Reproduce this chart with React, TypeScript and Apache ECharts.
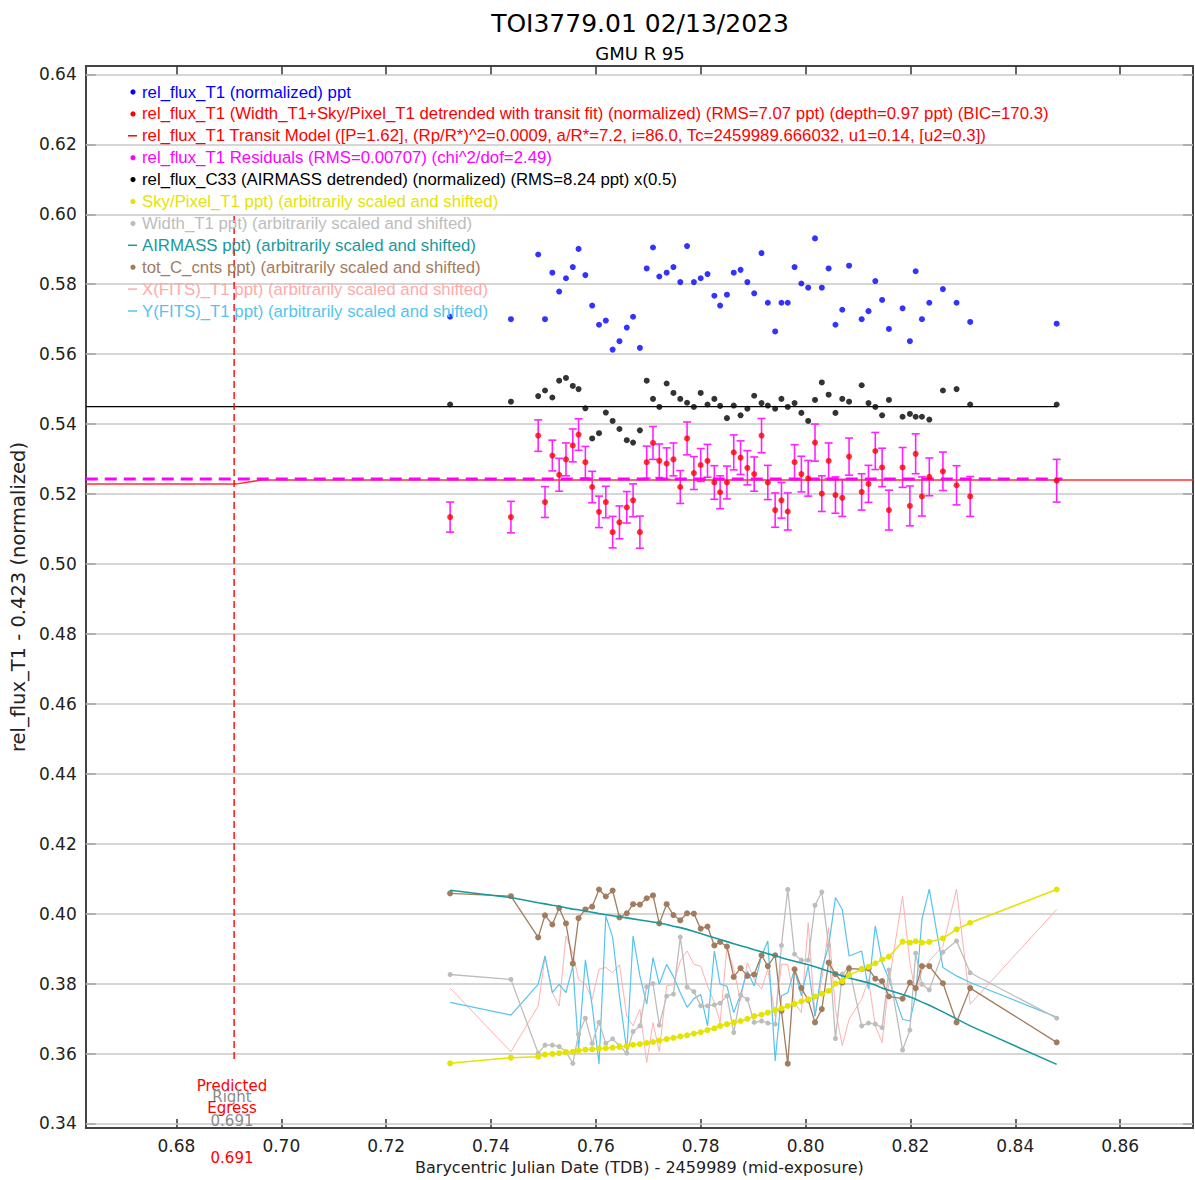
import React, { useEffect, useRef } from "react";
import * as echarts from "echarts";

// ---------------- data ----------------
const times = [0.7322, 0.7438, 0.749, 0.7503, 0.7517, 0.753, 0.7543, 0.7556, 0.7567, 0.758, 0.7593, 0.7606, 0.7619, 0.7632, 0.7645, 0.7659, 0.7671, 0.7684, 0.7697, 0.7709, 0.7721, 0.7735, 0.7748, 0.7761, 0.7774, 0.7787, 0.78, 0.7813, 0.7826, 0.7837, 0.785, 0.7863, 0.7876, 0.7889, 0.7902, 0.7916, 0.7928, 0.7942, 0.7954, 0.7966, 0.7979, 0.7992, 0.8005, 0.8018, 0.8031, 0.8044, 0.8057, 0.807, 0.8083, 0.8107, 0.812, 0.8133, 0.8146, 0.8159, 0.8185, 0.8199, 0.821, 0.8222, 0.8236, 0.8262, 0.8288, 0.8314, 0.8479];

const relFluxT1 = [0.5707, 0.57, 0.5885, 0.57, 0.5833, 0.5779, 0.5817, 0.5849, 0.5901, 0.5826, 0.5739, 0.5684, 0.5696, 0.5613, 0.5637, 0.5676, 0.5707, 0.5618, 0.5845, 0.5905, 0.5822, 0.5833, 0.5849, 0.5806, 0.5909, 0.5806, 0.5817, 0.5829, 0.5767, 0.5739, 0.577, 0.5833, 0.5841, 0.5806, 0.5774, 0.5889, 0.5747, 0.5665, 0.5747, 0.5747, 0.5849, 0.5802, 0.579, 0.5931, 0.579, 0.5845, 0.5684, 0.5727, 0.5853, 0.57, 0.5723, 0.5809, 0.5755, 0.5672, 0.5731, 0.5637, 0.5837, 0.57, 0.5747, 0.5786, 0.5747, 0.5692, 0.5687];

const detrended = [0.5134, 0.5134, 0.5367, 0.5177, 0.531, 0.5255, 0.5299, 0.5339, 0.537, 0.5291, 0.522, 0.5149, 0.5177, 0.5091, 0.5119, 0.5162, 0.5182, 0.5091, 0.5291, 0.5346, 0.5295, 0.5287, 0.5299, 0.522, 0.5359, 0.526, 0.5283, 0.5295, 0.5233, 0.5205, 0.5233, 0.5319, 0.5304, 0.5275, 0.5257, 0.5367, 0.5233, 0.5154, 0.5182, 0.515, 0.5291, 0.5257, 0.5245, 0.5347, 0.5201, 0.5295, 0.5197, 0.5189, 0.5307, 0.5206, 0.5229, 0.5323, 0.5276, 0.5154, 0.5276, 0.5166, 0.5315, 0.5193, 0.5249, 0.5265, 0.5225, 0.5193, 0.5238];

const detrendedErr = [0.0043, 0.0045, 0.0045, 0.0044, 0.0044, 0.0047, 0.0047, 0.0047, 0.0045, 0.0045, 0.0045, 0.0045, 0.0045, 0.0045, 0.0047, 0.0045, 0.0047, 0.0046, 0.0046, 0.0047, 0.0048, 0.0045, 0.0047, 0.0047, 0.0047, 0.0047, 0.0047, 0.0047, 0.0048, 0.0047, 0.0047, 0.005, 0.0048, 0.0049, 0.0049, 0.0049, 0.0049, 0.0049, 0.0051, 0.0053, 0.005, 0.0051, 0.0051, 0.0053, 0.0051, 0.0051, 0.0052, 0.0053, 0.0053, 0.0052, 0.0053, 0.0053, 0.0055, 0.0057, 0.0057, 0.0057, 0.0057, 0.0056, 0.0054, 0.0055, 0.0056, 0.0057, 0.0061];

const compC33 = [0.5456, 0.5464, 0.548, 0.5496, 0.5476, 0.5524, 0.5532, 0.5509, 0.55, 0.5445, 0.5359, 0.5374, 0.5433, 0.5409, 0.5386, 0.5354, 0.5347, 0.5382, 0.5524, 0.5472, 0.5449, 0.5516, 0.5489, 0.5472, 0.5461, 0.5449, 0.5489, 0.5456, 0.5472, 0.5452, 0.5417, 0.5453, 0.5425, 0.5444, 0.5481, 0.546, 0.5453, 0.5444, 0.5472, 0.5449, 0.546, 0.5432, 0.5409, 0.5469, 0.5519, 0.5484, 0.5432, 0.5472, 0.5464, 0.5511, 0.546, 0.5449, 0.5425, 0.5469, 0.5421, 0.5429, 0.5421, 0.5421, 0.5413, 0.5496, 0.55, 0.5456, 0.5456];

const skyPixel = [0.3572, 0.3588, 0.3591, 0.3597, 0.3599, 0.3601, 0.3604, 0.3605, 0.3608, 0.3611, 0.3612, 0.3614, 0.3615, 0.3617, 0.3619, 0.3621, 0.3625, 0.3627, 0.363, 0.3633, 0.3637, 0.3641, 0.3645, 0.3649, 0.3652, 0.3657, 0.3661, 0.3667, 0.3672, 0.3679, 0.3684, 0.3689, 0.3693, 0.3699, 0.3707, 0.3711, 0.3717, 0.3724, 0.3729, 0.3736, 0.3742, 0.3749, 0.3755, 0.3763, 0.3771, 0.3779, 0.38, 0.3807, 0.3824, 0.3841, 0.3848, 0.3858, 0.3869, 0.3877, 0.392, 0.3917, 0.3921, 0.3917, 0.3919, 0.3929, 0.3955, 0.3974, 0.4069];

const widthT1 = [0.3826, 0.3812, 0.3601, 0.3624, 0.3624, 0.362, 0.3605, 0.3572, 0.3655, 0.3701, 0.3629, 0.3689, 0.3629, 0.3642, 0.3622, 0.3601, 0.3663, 0.3679, 0.3791, 0.38, 0.3681, 0.3764, 0.377, 0.3933, 0.379, 0.3777, 0.3736, 0.3736, 0.3739, 0.3744, 0.3765, 0.366, 0.3767, 0.3755, 0.3689, 0.3693, 0.3687, 0.3684, 0.3909, 0.4069, 0.3884, 0.3867, 0.3867, 0.4024, 0.4062, 0.3909, 0.3643, 0.3827, 0.3847, 0.3679, 0.3687, 0.3684, 0.3674, 0.3839, 0.361, 0.3667, 0.3887, 0.3798, 0.3782, 0.389, 0.3922, 0.3831, 0.3701];

const airmass = [0.4067, 0.4046, 0.4031, 0.4028, 0.4024, 0.4021, 0.4017, 0.4013, 0.4011, 0.4007, 0.4004, 0.4, 0.3997, 0.3994, 0.3991, 0.3988, 0.3985, 0.3982, 0.3979, 0.3976, 0.3973, 0.3969, 0.3964, 0.396, 0.3955, 0.3949, 0.3943, 0.3937, 0.3931, 0.3926, 0.392, 0.3914, 0.3908, 0.3903, 0.3897, 0.3891, 0.3885, 0.388, 0.3874, 0.3869, 0.3864, 0.3859, 0.3854, 0.3848, 0.3842, 0.3835, 0.3829, 0.3822, 0.3816, 0.3807, 0.3802, 0.3796, 0.3787, 0.3781, 0.3769, 0.3762, 0.3755, 0.3747, 0.3738, 0.3719, 0.3699, 0.3679, 0.3569];

const totCcnts = [0.4058, 0.405, 0.3932, 0.3995, 0.3969, 0.4016, 0.3972, 0.3857, 0.3987, 0.4012, 0.402, 0.4069, 0.4049, 0.4066, 0.3989, 0.4001, 0.4027, 0.4026, 0.4044, 0.4052, 0.3972, 0.4027, 0.3996, 0.3981, 0.4001, 0.4, 0.3957, 0.3963, 0.3909, 0.3919, 0.3906, 0.3819, 0.3844, 0.3822, 0.3826, 0.3881, 0.385, 0.3881, 0.3722, 0.3571, 0.3841, 0.3787, 0.3753, 0.3689, 0.3727, 0.386, 0.3827, 0.3803, 0.3843, 0.3841, 0.3843, 0.3814, 0.3807, 0.3763, 0.3757, 0.3803, 0.3787, 0.385, 0.385, 0.3801, 0.3689, 0.3787, 0.3632];

const xFits = [0.3787, 0.3605, 0.3736, 0.3877, 0.3774, 0.3736, 0.3936, 0.3887, 0.3812, 0.3798, 0.3755, 0.3841, 0.3846, 0.3831, 0.3854, 0.3707, 0.3679, 0.3727, 0.3574, 0.3688, 0.3605, 0.3793, 0.3798, 0.3865, 0.3893, 0.3855, 0.385, 0.3793, 0.3746, 0.3688, 0.3903, 0.3841, 0.375, 0.386, 0.3812, 0.3784, 0.3841, 0.3707, 0.3855, 0.3855, 0.3746, 0.3717, 0.3974, 0.3707, 0.3812, 0.396, 0.3727, 0.3622, 0.3698, 0.3755, 0.3812, 0.3679, 0.3631, 0.3803, 0.405, 0.386, 0.3769, 0.3836, 0.3865, 0.3907, 0.407, 0.3741, 0.4012];

const yFits = [0.3746, 0.371, 0.3798, 0.3879, 0.3774, 0.3798, 0.3774, 0.385, 0.3612, 0.3868, 0.3736, 0.357, 0.3993, 0.3932, 0.3765, 0.3608, 0.3936, 0.3822, 0.3741, 0.3874, 0.3798, 0.3855, 0.382, 0.3774, 0.3732, 0.3757, 0.3769, 0.3679, 0.3893, 0.3798, 0.3793, 0.3717, 0.3769, 0.3836, 0.3793, 0.3879, 0.3922, 0.3579, 0.3765, 0.3774, 0.3841, 0.3765, 0.385, 0.3707, 0.3841, 0.3908, 0.4046, 0.4012, 0.3879, 0.3893, 0.3784, 0.3965, 0.386, 0.3812, 0.3698, 0.3693, 0.3765, 0.3984, 0.407, 0.3846, 0.3822, 0.3803, 0.3704];

// transit model (in-transit then egress then out-of-transit level)
const modelTimes = [0.6627, 0.6915, 0.6962, 0.8739];
const modelFlux = [0.5229, 0.5229, 0.524, 0.524];
// residual baseline (dashed magenta) and comparison-star baseline (black)
const residualTimes = [0.6627, 0.849];
const residualLevel = 0.5243;
const compTimes = [0.6627, 0.8479];
const compLevel = 0.545;
// predicted egress marker
const egressTime = 0.691;
const egressSpan = [0.5995, 0.3575];

// axes
const xMin = 0.6627;
const xMax = 0.8739;
const yMin = 0.3387;
const yMax = 0.6424;
const xTicks = [0.68, 0.7, 0.72, 0.74, 0.76, 0.78, 0.8, 0.82, 0.84, 0.86];
const yTicks = [0.34, 0.36, 0.38, 0.4, 0.42, 0.44, 0.46, 0.48, 0.5, 0.52, 0.54, 0.56, 0.58, 0.6, 0.62, 0.64];

const titleText = "TOI3779.01 02/13/2023";
const subtitleText = "GMU R 95";
const xName = "Barycentric Julian Date (TDB) - 2459989 (mid-exposure)";
const yName = "rel_flux_T1 - 0.423 (normalized)";

const legendRows = [
  { text: "rel_flux_T1 (normalized) ppt", color: "#0000ff", mark: "dot" },
  { text: "rel_flux_T1 (Width_T1+Sky/Pixel_T1 detrended with transit fit) (normalized) (RMS=7.07 ppt) (depth=0.97 ppt) (BIC=170.3)", color: "#ff0000", mark: "dot" },
  { text: "rel_flux_T1 Transit Model ([P=1.62], (Rp/R*)^2=0.0009, a/R*=7.2, i=86.0, Tc=2459989.666032, u1=0.14, [u2=0.3])", color: "#ff0000", mark: "dash" },
  { text: "rel_flux_T1 Residuals (RMS=0.00707) (chi^2/dof=2.49)", color: "#ff00ff", mark: "dot" },
  { text: "rel_flux_C33 (AIRMASS detrended) (normalized) (RMS=8.24 ppt) x(0.5)", color: "#000000", mark: "dot" },
  { text: "Sky/Pixel_T1 ppt) (arbitrarily scaled and shifted)", color: "#e4e400", mark: "dot" },
  { text: "Width_T1 ppt) (arbitrarily scaled and shifted)", color: "#bdbdbd", mark: "dot" },
  { text: "AIRMASS ppt) (arbitrarily scaled and shifted)", color: "#18999b", mark: "dash" },
  { text: "tot_C_cnts ppt) (arbitrarily scaled and shifted)", color: "#a27c5c", mark: "dot" },
  { text: "X(FITS)_T1 ppt) (arbitrarily scaled and shifted)", color: "#ffaaaa", mark: "dash" },
  { text: "Y(FITS)_T1 ppt) (arbitrarily scaled and shifted)", color: "#55c4ee", mark: "dash" },
];

const FONT = '"DejaVu Sans", "Liberation Sans", sans-serif';
const LEGEND_FONT = '"Liberation Sans", Arial, sans-serif';

const pairs = (ys: number[]) => times.map((t, i) => [t, ys[i]]);

export default function App() {
  const ref = useRef<HTMLDivElement>(null);

  useEffect(() => {
    if (!ref.current) return;
    const chart = echarts.init(ref.current, undefined, { renderer: "svg" });

    const axisLineStyle = { color: "#444", width: 2 };
    const tickStyle = { color: "#333", width: 1.5 };

    const legendGraphics: any[] = [];
    legendRows.forEach((row, i) => {
      const y = 92 + i * 21.9;
      if (row.mark === "dot") {
        legendGraphics.push({ type: "circle", shape: { cx: 133, cy: y, r: 2.6 }, style: { fill: row.color }, z: 20 });
      } else {
        legendGraphics.push({ type: "line", shape: { x1: 128, y1: y, x2: 137, y2: y }, style: { stroke: row.color, lineWidth: 1.5 }, z: 20 });
      }
      legendGraphics.push({
        type: "text", x: 142, y, z: 20,
        style: { text: row.text, fill: row.color, fontSize: 16.8, fontFamily: LEGEND_FONT, verticalAlign: "middle", align: "left" },
      });
    });

    const egressLabels = [
      { text: "Predicted", color: "#ff0000", y: 1086 },
      { text: "Right", color: "#8c8c8c", y: 1097 },
      { text: "Egress", color: "#ff0000", y: 1108 },
      { text: "0.691", color: "#8c8c8c", y: 1121 },
      { text: "0.691", color: "#ff0000", y: 1158 },
    ].map((l) => ({
      type: "text", x: 232, y: l.y, z: 20,
      style: { text: l.text, fill: l.color, fontSize: 15, fontFamily: FONT, align: "center", verticalAlign: "middle" },
    }));

    const option: any = {
      animation: false,
      backgroundColor: "#ffffff",
      grid: { left: 84, right: 2, top: 66, bottom: 51, containLabel: false },
      xAxis: [
        {
          type: "value", position: "bottom", min: xMin, max: xMax,
          name: xName, nameLocation: "middle", nameGap: 31,
          nameTextStyle: { fontSize: 16, fontFamily: FONT, color: "#222" },
          axisLine: { show: true, onZero: false, lineStyle: axisLineStyle },
          axisTick: { show: true, inside: true, length: 9, customValues: xTicks, lineStyle: tickStyle },
          axisLabel: { show: true, customValues: xTicks, formatter: (v: number) => v.toFixed(2), margin: 9, fontSize: 17, fontFamily: FONT, color: "#222" },
          splitLine: { show: false },
        },
        {
          type: "value", position: "top", min: xMin, max: xMax,
          axisLine: { show: true, onZero: false, lineStyle: axisLineStyle },
          axisTick: { show: true, inside: true, length: 9, customValues: xTicks, lineStyle: tickStyle },
          axisLabel: { show: false },
          splitLine: { show: false },
        },
      ],
      yAxis: [
        {
          type: "value", position: "left", min: yMin, max: yMax,
          name: yName, nameLocation: "middle", nameGap: 56, nameRotate: 90,
          nameTextStyle: { fontSize: 19.5, fontFamily: FONT, color: "#222" },
          axisLine: { show: true, onZero: false, lineStyle: axisLineStyle },
          axisTick: { show: true, inside: true, length: 10, customValues: yTicks, lineStyle: tickStyle },
          axisLabel: { show: true, customValues: yTicks, formatter: (v: number) => v.toFixed(2), margin: 9, fontSize: 17, fontFamily: FONT, color: "#222" },
          splitLine: { show: false },
        },
        {
          type: "value", position: "right", min: yMin, max: yMax,
          axisLine: { show: true, onZero: false, lineStyle: axisLineStyle },
          axisTick: { show: true, inside: true, length: 10, customValues: yTicks, lineStyle: tickStyle },
          axisLabel: { show: false },
          splitLine: { show: false },
        },
      ],
      series: [
        {
          name: "X(FITS)_T1", type: "line", data: pairs(xFits), showSymbol: false, z: 2,
          lineStyle: { color: "#ffb0b0", width: 1 }, silent: true,
          markLine: {
            silent: true, symbol: ["none", "none"], label: { show: false }, z: 1,
            lineStyle: { color: "#c8c8c8", width: 1.5, type: "solid" },
            data: yTicks.map((v) => ({ yAxis: v })),
          },
        },
        { name: "Y(FITS)_T1", type: "line", data: pairs(yFits), showSymbol: false, z: 2, lineStyle: { color: "#55c4ee", width: 1.2 }, silent: true },
        {
          name: "Width_T1", type: "line", data: pairs(widthT1), symbol: "circle", symbolSize: 5, z: 3,
          lineStyle: { color: "#bdbdbd", width: 1.3 }, itemStyle: { color: "#bdbdbd" }, silent: true,
        },
        {
          name: "tot_C_cnts", type: "line", data: pairs(totCcnts), symbol: "circle", symbolSize: 6, z: 3,
          lineStyle: { color: "#a27c5c", width: 1.3 }, itemStyle: { color: "#a27c5c" }, silent: true,
        },
        { name: "AIRMASS", type: "line", data: pairs(airmass), showSymbol: false, z: 4, lineStyle: { color: "#18999b", width: 1.6 }, silent: true },
        {
          name: "Sky/Pixel_T1", type: "line", data: pairs(skyPixel), symbol: "circle", symbolSize: 6, z: 5,
          lineStyle: { color: "#e4e400", width: 1.5 }, itemStyle: { color: "#e4e400" }, silent: true,
        },
        {
          name: "comp baseline", type: "line", data: compTimes.map((t) => [t, compLevel]), showSymbol: false, z: 5,
          lineStyle: { color: "#000", width: 1.4 }, silent: true,
        },
        { name: "rel_flux_C33", type: "scatter", data: pairs(compC33), symbol: "circle", symbolSize: 6, itemStyle: { color: "#000" }, z: 6, silent: true },
        { name: "rel_flux_T1", type: "scatter", data: pairs(relFluxT1), symbol: "circle", symbolSize: 6, itemStyle: { color: "#0000ff" }, z: 6, silent: true },
        {
          name: "errors", type: "custom", z: 6, silent: true,
          data: times.map((t, i) => [t, detrended[i] - detrendedErr[i], detrended[i] + detrendedErr[i]]),
          encode: { x: 0, y: [1, 2] },
          renderItem: (params: any, api: any) => {
            const t = api.value(0);
            const lo = api.coord([t, api.value(1)]);
            const hi = api.coord([t, api.value(2)]);
            const hw = 4;
            const style = { stroke: "#ff22ff", lineWidth: 1.6 };
            return {
              type: "group",
              children: [
                { type: "line", shape: { x1: lo[0], y1: lo[1], x2: hi[0], y2: hi[1] }, style },
                { type: "line", shape: { x1: lo[0] - hw, y1: lo[1], x2: lo[0] + hw, y2: lo[1] }, style },
                { type: "line", shape: { x1: hi[0] - hw, y1: hi[1], x2: hi[0] + hw, y2: hi[1] }, style },
              ],
            };
          },
        },
        {
          name: "Transit Model", type: "line", data: modelTimes.map((t, i) => [t, modelFlux[i]]), showSymbol: false, z: 7,
          lineStyle: { color: "#ff3030", width: 1.5 }, silent: true,
        },
        {
          name: "Residual baseline", type: "line", data: residualTimes.map((t) => [t, residualLevel]), showSymbol: false, z: 8,
          lineStyle: { color: "#ff00ff", width: 3, type: [12, 7] }, silent: true,
        },
        { name: "detrended", type: "scatter", data: pairs(detrended), symbol: "circle", symbolSize: 6, itemStyle: { color: "#ff0000" }, z: 9, silent: true },
        {
          name: "Predicted egress", type: "line", data: egressSpan.map((v) => [egressTime, v]), showSymbol: false, z: 9,
          lineStyle: { color: "#ff0000", width: 1.4, type: [7, 4] }, silent: true,
        },
      ],
      graphic: [
        {
          type: "text", x: 640, y: 23, z: 20,
          style: { text: titleText, fill: "#000", fontSize: 25, fontFamily: FONT, align: "center", verticalAlign: "middle" },
        },
        {
          type: "text", x: 640, y: 53, z: 20,
          style: { text: subtitleText, fill: "#000", fontSize: 18, fontFamily: FONT, align: "center", verticalAlign: "middle" },
        },
        ...legendGraphics,
        ...egressLabels,
      ],
    };

    chart.setOption(option);
    return () => chart.dispose();
  }, []);

  return (
    <div
      ref={ref}
      style={{ position: "absolute", left: 0, top: 0, width: 1195, height: 1180, background: "#fff" }}
    />
  );
}
